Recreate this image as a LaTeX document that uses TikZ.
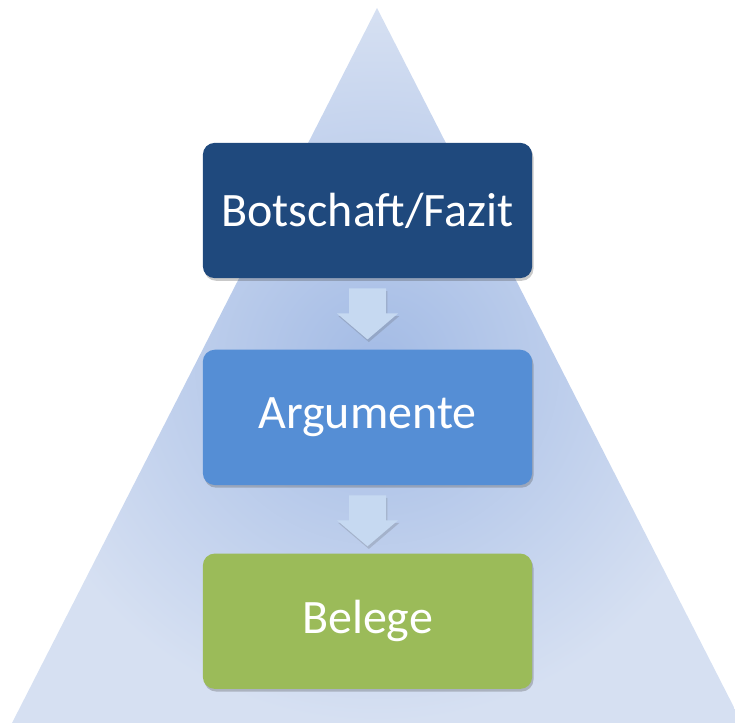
\documentclass[tikz,border=0pt]{standalone}
\usepackage{fontspec}
\setmainfont{Carlito}
\usetikzlibrary{calc,positioning,shadows}
\definecolor{botschaftblau}{HTML}{1F497D}
\definecolor{argumentblau}{HTML}{558ED5}
\definecolor{belegegruen}{HTML}{9BBB59}
\definecolor{pfeilblau}{HTML}{C6D9F1}
\definecolor{pyrinnen}{HTML}{A3BBE5}
\definecolor{pyraussen}{HTML}{D6E0F2}
\begin{document}
\begin{tikzpicture}[x=0.75pt,y=-0.75pt,
  ebene/.style={rounded corners=9pt, minimum width=247pt, minimum height=101.5pt,
    inner sep=0pt, text=white, font=\fontsize{36}{42}\selectfont,
    drop shadow={shadow xshift=1pt, shadow yshift=-2pt, opacity=.3, fill=black!70}},
  blockpfeil/.style={fill=pfeilblau,
    drop shadow={shadow xshift=1pt, shadow yshift=-2pt, opacity=.2, fill=black!70}}]
  \useasboundingbox (0,0) rectangle (735,723);
  % Pyramide im Hintergrund
  \begin{scope}
    \clip (0,0) rectangle (735,723);
    \shade[inner color=pyrinnen, outer color=pyraussen] (377,8) -- (742,723) -- (12,723) -- cycle;
  \end{scope}
  % Ebenen
  \node[ebene, fill=botschaftblau] (botschaft) at (367.5,210.5) {Botschaft/Fazit};
  \node[ebene, fill=argumentblau, below=53.25pt of botschaft] (argumente) {Argumente};
  \node[ebene, fill=belegegruen, below=51pt of argumente] (belege) {Belege};
  % Pfeile zwischen den Ebenen
  \foreach \n in {botschaft, argumente}{
    \fill[blockpfeil] ($(\n.south)+(-18.5,10)$) -- ($(\n.south)+(18.5,10)$)
      -- ($(\n.south)+(18.5,35)$) -- ($(\n.south)+(30.5,35)$)
      -- ($(\n.south)+(0,61)$) -- ($(\n.south)+(-30.5,35)$)
      -- ($(\n.south)+(-18.5,35)$) -- cycle;
  }
\end{tikzpicture}
\end{document}
